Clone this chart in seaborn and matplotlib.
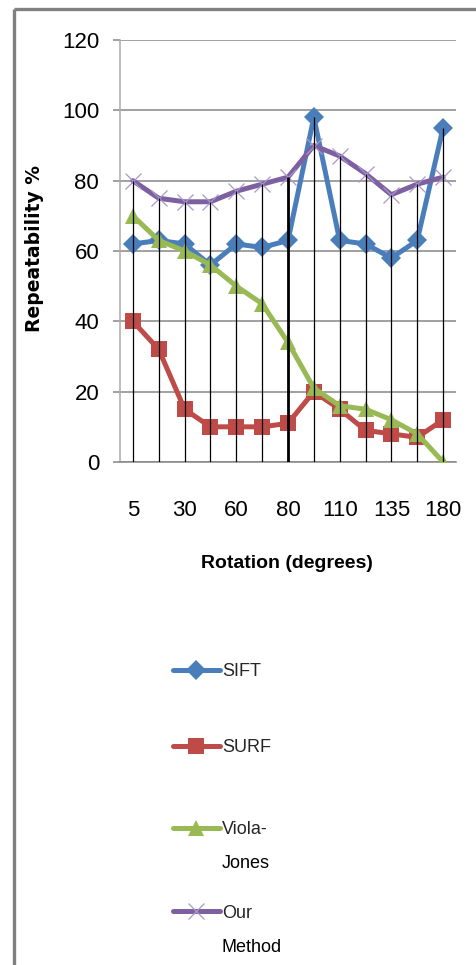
import numpy as np
import pandas as pd
import matplotlib
matplotlib.use("Agg")
import matplotlib.pyplot as plt
import seaborn as sns
from matplotlib.lines import Line2D

# ---------------- data ----------------
rotation_labels = ["5", "", "30", "", "60", "", "80", "", "110", "", "135", "", "180"]
sift = [62, 63, 62, 56, 62, 61, 63, 98, 63, 62, 58, 63, 95]
surf = [40, 32, 15, 10, 10, 10, 11, 20, 15, 9, 8, 7, 12]
viola_jones = [70, 63, 60, 56, 50, 45, 34, 21, 16, 15, 12, 8, 0]
our_method = [80, 75, 74, 74, 77, 79, 81, 90, 87, 82, 76, 79, 81]
series_names = ["SIFT", "SURF", "Viola-Jones", "Our Method"]
legend_labels = ["SIFT", "SURF", "Viola-\nJones", "Our\nMethod"]
y_ticks = [0, 20, 40, 60, 80, 100, 120]

# ---------------- style ----------------
sns.set_theme(style="white")
plt.rcParams["font.family"] = ["Liberation Sans", "DejaVu Sans"]

W, H = 477, 965
fig = plt.figure(figsize=(W / 100, H / 100), dpi=100)
fig.patch.set_facecolor("white")
ax = fig.add_axes([120 / W, 1 - 462 / H, 336 / W, 422 / H])

pos = np.arange(len(rotation_labels))
df = pd.DataFrame({"pos": pos, "SIFT": sift, "SURF": surf,
                   "Viola-Jones": viola_jones, "Our Method": our_method})

styles = {
    "SIFT": dict(color="#4A7EBB", marker="D", markersize=10, markeredgewidth=0),
    "SURF": dict(color="#BE4B48", marker="s", markersize=11, markeredgewidth=0),
    "Viola-Jones": dict(color="#98B954", marker="^", markersize=12, markeredgewidth=0),
    "Our Method": dict(color="#7D60A0", marker="x", markersize=11,
                       markeredgewidth=0.9, markeredgecolor="#A996CC"),
}

for name in series_names:
    st = dict(styles[name])
    if "markeredgecolor" not in st:
        st["markeredgecolor"] = st["color"]
    sns.lineplot(data=df, x="pos", y=name, ax=ax, linewidth=3.6, legend=False,
                 label=name, zorder=3, **st)

# drop lines from highest value to axis
tops = np.max(np.array([sift, surf, viola_jones, our_method]), axis=0)
lws = [0.9] * len(pos)
lws[6] = 2.0
ax.vlines(pos, 0, tops, colors="black", linewidths=lws, zorder=4)

ax.set_xlim(-0.5, len(pos) - 0.5)
ax.set_ylim(0, 120)
ax.set_yticks(y_ticks)
ax.set_yticklabels([str(v) for v in y_ticks])
ax.set_xticks(pos)
ax.set_xticklabels(rotation_labels)
ax.yaxis.grid(True, color="#868686", linewidth=1.1)
ax.xaxis.grid(False)
ax.set_axisbelow(True)

for s in ["top", "right"]:
    ax.spines[s].set_visible(False)
ax.spines["left"].set_color("#ABABAB")
ax.spines["left"].set_linewidth(1.1)
ax.spines["bottom"].set_color("#868686")
ax.spines["bottom"].set_linewidth(1.1)

ax.tick_params(axis="y", left=True, length=5, width=1.1, color="#868686",
               pad=10, labelsize=16, labelcolor="black", direction="out")
ax.tick_params(axis="x", bottom=False, length=0, pad=27, labelsize=16,
               labelcolor="black")

ax.set_ylabel("Repeatability %", fontfamily="DejaVu Sans", fontweight="bold",
              fontsize=13.5, color="black", va="center")
ax.yaxis.set_label_coords((35 - 120) / 336, (462 - 249) / 422)
ax.set_xlabel("Rotation (degrees)", fontweight="bold", fontsize=14,
              color="black", va="center")
ax.xaxis.set_label_coords((287 - 120) / 336, (462 - 563) / 422)

# legend: one entry per block, placed below the chart
handles = {name: ln for ln in ax.get_lines() for name in series_names
           if ln.get_label() == name}
entry_y = [672, 748, 830, 913]
for name, lab, yy in zip(series_names, legend_labels, entry_y):
    first, *rest = lab.split("\n")
    leg = fig.legend(handles=[handles[name]], labels=[first], loc="center left",
                     bbox_to_anchor=(173 / W, 1 - yy / H), frameon=False,
                     borderpad=0, borderaxespad=0, handlelength=2.6,
                     handletextpad=0.12, fontsize=13)
    for r in rest:
        fig.text(222 / W, 1 - (yy + 34) / H, r, fontsize=13, va="center",
                 ha="left", color="black")

# outer frame (left and top edges)
fig.add_artist(Line2D([14 / W, 14 / W], [0, 1 - 9 / H], transform=fig.transFigure,
                      color="#808080", linewidth=2.4, solid_capstyle="butt"))
fig.add_artist(Line2D([14 / W, 1], [1 - 9 / H, 1 - 9 / H], transform=fig.transFigure,
                      color="#808080", linewidth=2.4, solid_capstyle="butt"))

fig.savefig("out.png", dpi=100, facecolor="white")
